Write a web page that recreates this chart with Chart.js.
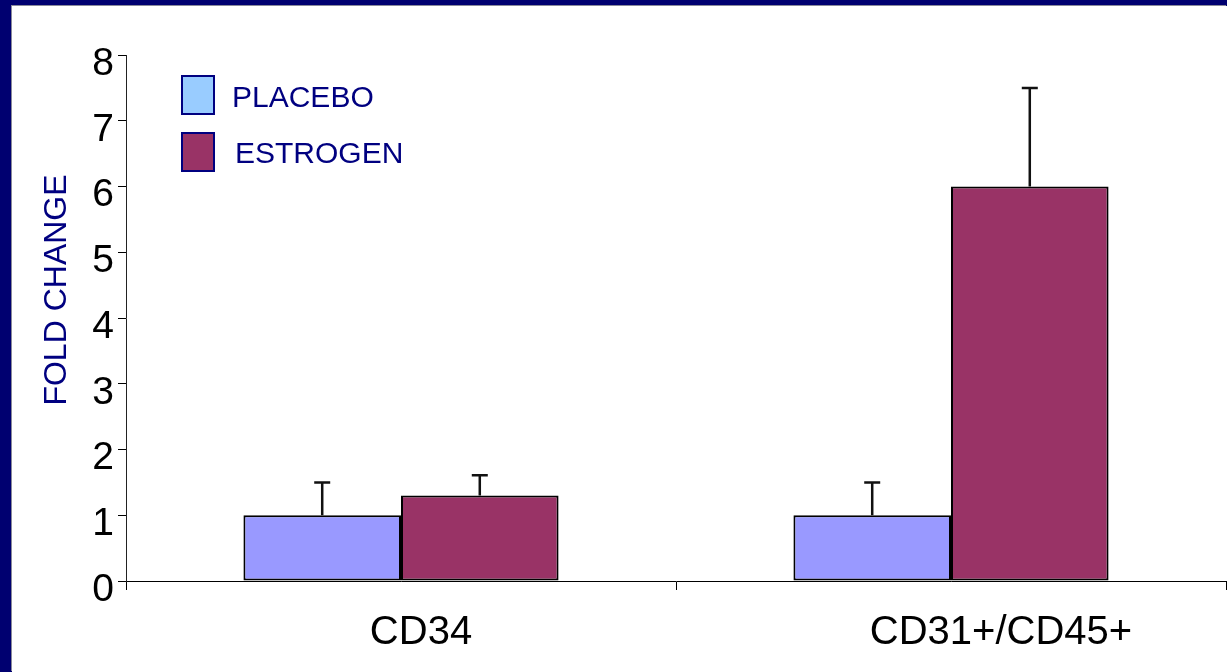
<!DOCTYPE html>
<html>
<head>
<meta charset="utf-8">
<script src="https://cdn.jsdelivr.net/npm/chart.js@4/dist/chart.umd.min.js"></script>
<style>
    html, body { margin: 0; padding: 0; overflow: hidden; background: #000070; }
    .frame { position: absolute; left: 12px; top: 6px; width: 1215px; height: 666px; background: #fff; box-shadow: -1px -1px 0 #8a8a9a; }
</style>
</head>
<body>
<div class="frame"><canvas id="foldChart"></canvas></div>
<script>
// ------- Datos -------
const categories = ['CD34', 'CD31+/CD45+'];
const seriesNames = ['PLACEBO', 'ESTROGEN'];
const placeboValues = [1.0, 1.0];
const estrogenValues = [1.3, 6.0];
const placeboErrTop = [1.5, 1.5];
const estrogenErrTop = [1.61, 7.5];
const yTicks = [0, 1, 2, 3, 4, 5, 6, 7, 8];
const yTitle = 'FOLD CHANGE';

// ------- Estilos -------
const barColors = ['#9999ff', '#993366'];
const legendColors = ['#99ccff', '#993366'];
const navy = '#000080';
const FONT = 'Arial, "Liberation Sans", sans-serif';
const xLabelShift = [20, 50];

(function () {
    const errTops = [placeboErrTop, estrogenErrTop];

    // barras de error hacia arriba
    const errorBars = {
        id: 'errorBars',
        afterDatasetsDraw(chart) {
            const ctx = chart.ctx;
            const y = chart.scales.y;
            ctx.save();
            ctx.strokeStyle = '#111';
            ctx.lineWidth = 2.5;
            chart.data.datasets.forEach((ds, d) => {
                const meta = chart.getDatasetMeta(d);
                meta.data.forEach((bar, i) => {
                    const top = y.getPixelForValue(errTops[d][i]);
                    ctx.beginPath();
                    ctx.moveTo(bar.x, bar.y);
                    ctx.lineTo(bar.x, top);
                    ctx.moveTo(bar.x - 8, top);
                    ctx.lineTo(bar.x + 8, top);
                    ctx.stroke();
                });
            });
            ctx.restore();
        }
    };

    // leyenda, título del eje y etiquetas de categoría
    const extraText = {
        id: 'extraText',
        afterDraw(chart) {
            const ctx = chart.ctx;
            const area = chart.chartArea;
            const x = chart.scales.x;
            ctx.save();

            // leyenda
            const rows = [{ y: 70, tx: 220, ty: 93 }, { y: 127, tx: 223, ty: 149 }];
            seriesNames.forEach((name, i) => {
                const r = rows[i];
                ctx.fillStyle = legendColors[i];
                ctx.fillRect(170, r.y, 32, 38);
                ctx.strokeStyle = navy;
                ctx.lineWidth = 2;
                ctx.strokeRect(170, r.y, 32, 38);
                ctx.fillStyle = navy;
                ctx.font = '30px ' + FONT;
                ctx.textAlign = 'left';
                ctx.textBaseline = 'middle';
                ctx.fillText(name, r.tx, r.ty);
            });

            // título eje Y
            ctx.save();
            ctx.translate(45, 284);
            ctx.rotate(-Math.PI / 2);
            ctx.fillStyle = navy;
            ctx.font = '32px ' + FONT;
            ctx.textAlign = 'center';
            ctx.textBaseline = 'middle';
            ctx.fillText(yTitle, 0, 0);
            ctx.restore();

            // categorías
            ctx.fillStyle = '#000';
            ctx.font = '40px ' + FONT;
            ctx.textAlign = 'center';
            ctx.textBaseline = 'middle';
            categories.forEach((c, i) => {
                ctx.fillText(c, x.getPixelForValue(i) + xLabelShift[i], area.bottom + 52);
            });
            ctx.restore();
        }
    };

    const ctx = document.getElementById('foldChart').getContext('2d');
    new Chart(ctx, {
        type: 'bar',
        data: {
            labels: categories,
            datasets: [
                { label: seriesNames[0], data: placeboValues, backgroundColor: barColors[0] },
                { label: seriesNames[1], data: estrogenValues, backgroundColor: barColors[1] }
            ]
        },
        options: {
            responsive: true,
            maintainAspectRatio: false,
            animation: false,
            layout: { padding: { top: 49, right: 1, left: 0, bottom: 0 } },
            datasets: {
                bar: {
                    borderColor: '#000',
                    borderWidth: 2,
                    borderSkipped: false,
                    barPercentage: 1,
                    categoryPercentage: 0.573
                }
            },
            plugins: {
                legend: { display: false },
                tooltip: { enabled: false }
            },
            scales: {
                x: {
                    grid: { offset: true, drawOnChartArea: false, drawTicks: true, tickLength: 9, color: '#000' },
                    border: { display: true, color: '#000', width: 1 },
                    ticks: { display: false },
                    afterFit: (s) => { s.height = 91; }
                },
                y: {
                    min: 0,
                    max: 8,
                    afterBuildTicks: (s) => { s.ticks = yTicks.map(v => ({ value: v })); },
                    grid: { drawOnChartArea: false, drawTicks: true, tickLength: 8, color: '#000' },
                    border: { display: true, color: '#222', width: 1 },
                    ticks: {
                        color: '#000',
                        font: { family: FONT, size: 39 },
                        padding: 4,
                        labelOffset: 9
                    },
                    afterFit: (s) => { s.width = 114; }
                }
            }
        },
        plugins: [errorBars, extraText]
    });
})();
</script>
</body>
</html>
